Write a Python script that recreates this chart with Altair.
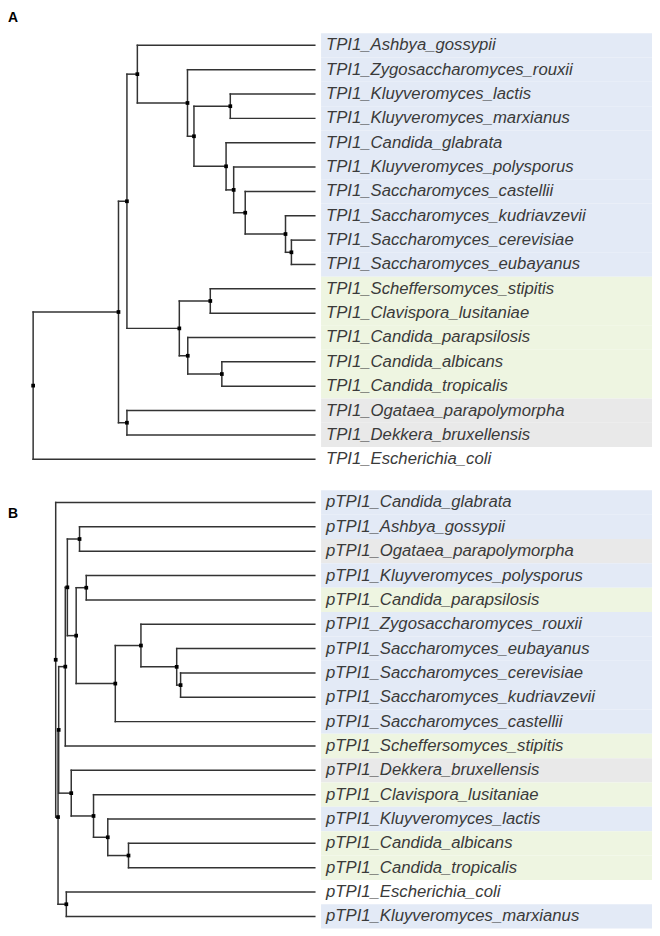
import altair as alt
import pandas as pd

# ---------------- data ----------------
LEAVES_A = [
    "TPI1_Ashbya_gossypii", "TPI1_Zygosaccharomyces_rouxii", "TPI1_Kluyveromyces_lactis",
    "TPI1_Kluyveromyces_marxianus", "TPI1_Candida_glabrata", "TPI1_Kluyveromyces_polysporus",
    "TPI1_Saccharomyces_castellii", "TPI1_Saccharomyces_kudriavzevii", "TPI1_Saccharomyces_cerevisiae",
    "TPI1_Saccharomyces_eubayanus", "TPI1_Scheffersomyces_stipitis", "TPI1_Clavispora_lusitaniae",
    "TPI1_Candida_parapsilosis", "TPI1_Candida_albicans", "TPI1_Candida_tropicalis",
    "TPI1_Ogataea_parapolymorpha", "TPI1_Dekkera_bruxellensis", "TPI1_Escherichia_coli",
]
GROUPS_A = [
    "Saccharomycetaceae", "Saccharomycetaceae", "Saccharomycetaceae", "Saccharomycetaceae",
    "Saccharomycetaceae", "Saccharomycetaceae", "Saccharomycetaceae", "Saccharomycetaceae",
    "Saccharomycetaceae", "Saccharomycetaceae", "CTG clade", "CTG clade", "CTG clade",
    "CTG clade", "CTG clade", "Pichiaceae", "Pichiaceae", "outgroup",
]
# internal nodes: name -> (children [leaf index or node name], depth from root, tips at 1.0)
NODES_A = {
    "root": (["n1", 17], 0.000),
    "n1": (["n2", "n15"], 0.303),
    "n2": (["n3", "n11"], 0.333),
    "n3": ([0, "n4"], 0.370),
    "n4": ([1, "n5"], 0.548),
    "n5": (["n6", "n7"], 0.571),
    "n6": ([2, 3], 0.700),
    "n7": ([4, "n8"], 0.685),
    "n8": ([5, "n9"], 0.712),
    "n9": ([6, "n10"], 0.753),
    "n10": ([7, "n10b"], 0.896),
    "n10b": ([8, 9], 0.917),
    "n11": (["n12", "n13"], 0.519),
    "n12": ([10, 11], 0.629),
    "n13": ([12, "n14"], 0.549),
    "n14": ([13, 14], 0.670),
    "n15": ([15, 16], 0.333),
}

LEAVES_B = [
    "pTPI1_Candida_glabrata", "pTPI1_Ashbya_gossypii", "pTPI1_Ogataea_parapolymorpha",
    "pTPI1_Kluyveromyces_polysporus", "pTPI1_Candida_parapsilosis", "pTPI1_Zygosaccharomyces_rouxii",
    "pTPI1_Saccharomyces_eubayanus", "pTPI1_Saccharomyces_cerevisiae", "pTPI1_Saccharomyces_kudriavzevii",
    "pTPI1_Saccharomyces_castellii", "pTPI1_Scheffersomyces_stipitis", "pTPI1_Dekkera_bruxellensis",
    "pTPI1_Clavispora_lusitaniae", "pTPI1_Kluyveromyces_lactis", "pTPI1_Candida_albicans",
    "pTPI1_Candida_tropicalis", "pTPI1_Escherichia_coli", "pTPI1_Kluyveromyces_marxianus",
]
GROUPS_B = [
    "Saccharomycetaceae", "Saccharomycetaceae", "Pichiaceae", "Saccharomycetaceae", "CTG clade",
    "Saccharomycetaceae", "Saccharomycetaceae", "Saccharomycetaceae", "Saccharomycetaceae",
    "Saccharomycetaceae", "CTG clade", "Pichiaceae", "CTG clade", "Saccharomycetaceae",
    "CTG clade", "CTG clade", "outgroup", "Saccharomycetaceae",
]
NODES_B = {
    "root": ([0, "V"], 0.000),
    "V": (["T", "W"], 0.009),
    "T": (["R", "U"], 0.0115),
    "R": (["P", 10], 0.037),
    "P": (["N1", "Q"], 0.045),
    "N1": ([1, 2], 0.092),
    "Q": (["N2", "N3"], 0.079),
    "N2": ([3, 4], 0.118),
    "N3": (["N4", 9], 0.230),
    "N4": ([5, "N5"], 0.329),
    "N5": ([6, "N6"], 0.467),
    "N6": ([7, 8], 0.482),
    "U": ([11, "X"], 0.060),
    "X": ([12, "Y"], 0.146),
    "Y": ([13, "Z"], 0.201),
    "Z": ([14, 15], 0.281),
    "W": ([16, 17], 0.041),
}

GROUP_DOMAIN = ["Saccharomycetaceae", "CTG clade", "Pichiaceae", "outgroup"]
GROUP_COLORS = ["#E3EAF6", "#EEF5E1", "#E9E9E9", "#FFFFFF"]

W = 648
H = 460
Y_DOMAIN = [-1.416, 17.36]


def build(nodes, leaves, groups):
    ys = {}

    def y_of(c):
        if isinstance(c, int):
            return float(c)
        if c in ys:
            return ys[c]
        ch = nodes[c][0]
        v = (y_of(ch[0]) + y_of(ch[-1])) / 2.0
        ys[c] = v
        return v

    segs, dots = [], []
    for name, (children, depth) in nodes.items():
        cy = [y_of(c) for c in children]
        segs.append({"x": depth, "x2": depth, "y": min(cy), "y2": max(cy)})
        for c, yy in zip(children, cy):
            cx = 1.0 if isinstance(c, int) else nodes[c][1]
            segs.append({"x": depth, "x2": cx, "y": yy, "y2": yy})
        dots.append({"x": depth, "y": y_of(name)})
    lab = pd.DataFrame({"row": list(range(len(leaves))), "name": leaves, "group": groups})
    lab["y0"] = lab["row"] - 0.5
    lab["y1"] = lab["row"] + 0.5
    return pd.DataFrame(segs), pd.DataFrame(dots), lab


def panel(nodes, leaves, groups, xdom, letter, letter_y):
    segs, dots, lab = build(nodes, leaves, groups)
    xs = alt.Scale(domain=xdom, nice=False, zero=False)
    ys = alt.Scale(domain=Y_DOMAIN, nice=False, zero=False, reverse=True)
    bands = alt.Chart(lab[lab["group"] != "outgroup"]).mark_rect().encode(
        x=alt.value(315), x2=alt.value(W),
        y=alt.Y("y0:Q", scale=ys, axis=None), y2="y1:Q",
        color=alt.Color("group:N", scale=alt.Scale(domain=GROUP_DOMAIN, range=GROUP_COLORS), legend=None),
    )
    lines = alt.Chart(segs).mark_rule(color="#333333", strokeWidth=1.5, strokeCap="square").encode(
        x=alt.X("x:Q", scale=xs, axis=None), x2="x2:Q",
        y=alt.Y("y:Q", scale=ys, axis=None), y2="y2:Q",
    )
    pts = alt.Chart(dots).mark_square(color="#000000", size=14, opacity=1).encode(
        x=alt.X("x:Q", scale=xs, axis=None),
        y=alt.Y("y:Q", scale=ys, axis=None),
    )
    text = alt.Chart(lab).mark_text(
        align="left", baseline="middle", font="Liberation Sans", fontStyle="italic",
        fontSize=16.8, color="#3a3a3a",
    ).encode(
        x=alt.value(320),
        y=alt.Y("row:Q", scale=ys, axis=None),
        text="name:N",
    )
    letter_mark = alt.Chart(pd.DataFrame({"t": [letter]})).mark_text(
        align="left", baseline="middle", font="Liberation Sans", fontWeight="bold",
        fontSize=14, color="#000000",
    ).encode(x=alt.value(0), y=alt.value(letter_y), text="t:N")
    return alt.layer(bands, lines, pts, text, letter_mark).properties(width=W, height=H)


panel_a = panel(NODES_A, LEAVES_A, GROUPS_A, [-0.08927, 2.19725], "A", 7)
panel_b = panel(NODES_B, LEAVES_B, GROUPS_B, [-0.18412, 2.30150], "B", 46.7)

chart = alt.vconcat(panel_a, panel_b, spacing=0).properties(padding=0).configure_view(stroke=None)
chart.save("out.html", embed_options={"renderer": "svg", "actions": False})
